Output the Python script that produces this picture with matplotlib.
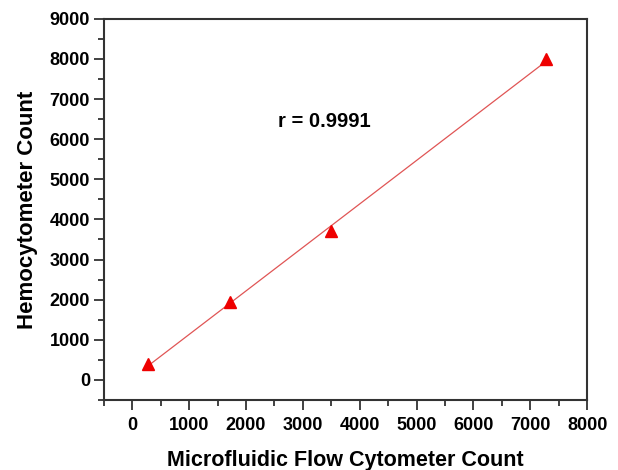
import numpy as np
import matplotlib
matplotlib.use("Agg")
import matplotlib.pyplot as plt
from matplotlib.ticker import MultipleLocator

plt.rcParams['font.family'] = ['Liberation Sans', 'DejaVu Sans']

# readings from the chart
flow_count = [280, 1720, 3500, 7280]
hemo_count = [400, 1950, 3700, 8000]
r_text = "r = 0.9991"

fig = plt.figure(figsize=(6.18, 4.70), dpi=100)
ax = fig.add_axes([0.168, 0.149, 0.782, 0.811])

# fit line
slope, icpt = np.polyfit(flow_count, hemo_count, 1)
xs = np.array([min(flow_count), max(flow_count)])
ax.plot(xs, slope * xs + icpt, color='#e05555', lw=0.9, zorder=2)
ax.plot(flow_count, hemo_count, '^', color='#ee0000', ms=8, mec='#ee0000', zorder=3)

ax.text(3380, 6450, r_text, fontsize=14.5, fontweight='bold', ha='center', va='center')

ax.set_xlim(-500, 8000)
ax.set_ylim(-500, 9000)
ax.xaxis.set_major_locator(MultipleLocator(1000))
ax.xaxis.set_minor_locator(MultipleLocator(500))
ax.yaxis.set_major_locator(MultipleLocator(1000))
ax.yaxis.set_minor_locator(MultipleLocator(500))

for s in ax.spines.values():
    s.set_color('#333333')
    s.set_linewidth(1.5)
ax.tick_params(which='major', length=7, width=1.3, color='#333333', direction='out', pad=5)
ax.tick_params(axis='y', which='major', pad=3)
ax.tick_params(which='minor', length=4, width=1.3, color='#333333', direction='out')
ax.tick_params(top=False, right=False, which='both')
for lab in ax.get_xticklabels() + ax.get_yticklabels():
    lab.set_fontweight('bold')
    lab.set_fontsize(13)

ax.set_xlabel('Microfluidic Flow Cytometer Count', fontsize=15.5, fontweight='bold', labelpad=12)
ax.set_ylabel('Hemocytometer Count', fontsize=16, fontweight='bold', labelpad=8)

fig.savefig('out.png', dpi=100)
